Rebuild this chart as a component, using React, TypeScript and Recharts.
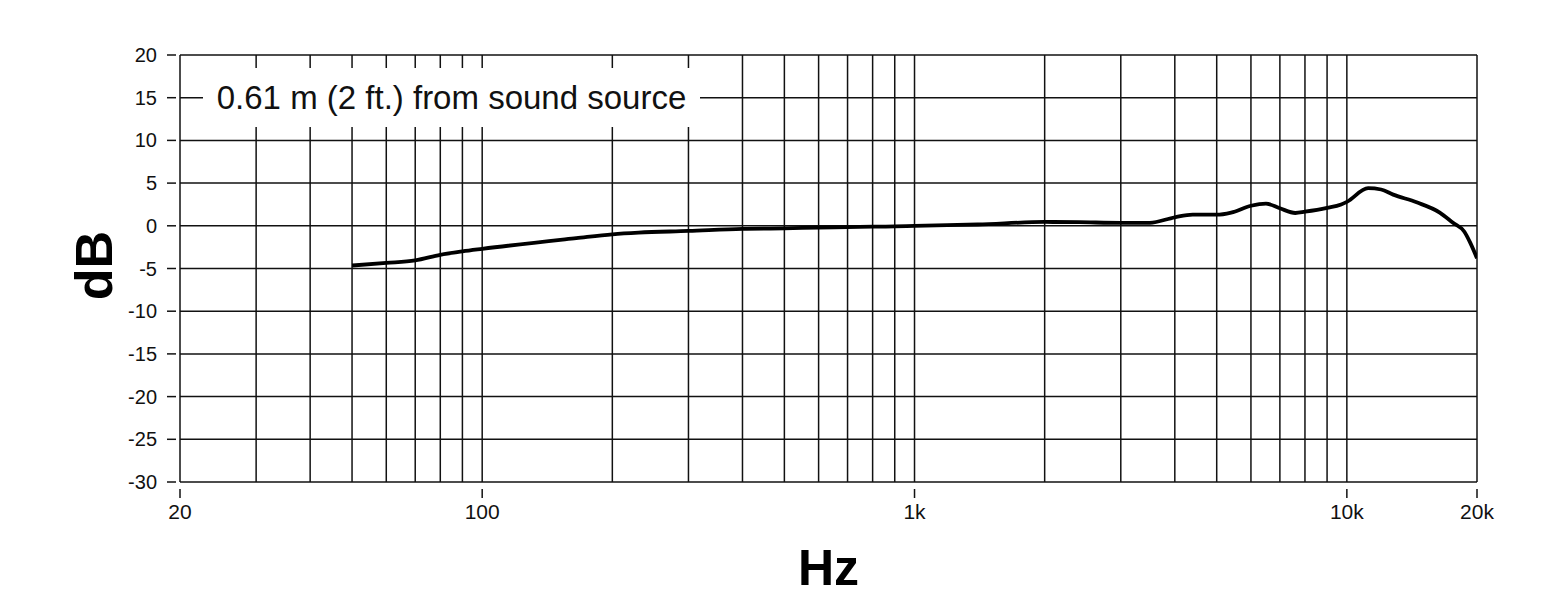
import React from 'react';
import { LineChart, Line, XAxis, YAxis, CartesianGrid, ReferenceLine } from 'recharts';

// frequency response
const freqs = [50, 60, 70, 80, 90, 100, 165, 200, 230, 300, 400, 500, 600, 700, 800, 900, 1000, 1400, 2000, 2400, 3000, 3500, 4000, 4400, 5000, 5400, 6000, 6500, 7000, 7600, 8000, 9000, 9700, 10000, 11200, 12000, 12800, 14500, 16400, 17600, 18700, 19300, 20000];
const dbValues = [-4.65, -4.35, -4.05, -3.4, -3.0, -2.7, -1.45, -1.0, -0.8, -0.6, -0.35, -0.3, -0.2, -0.15, -0.1, -0.07, 0, 0.15, 0.45, 0.42, 0.35, 0.35, 1.0, 1.3, 1.3, 1.55, 2.35, 2.6, 2.05, 1.5, 1.65, 2.1, 2.5, 2.8, 4.4, 4.25, 3.65, 2.75, 1.55, 0.35, -0.7, -2.0, -3.8];

const xTicks = [20, 100, 1000, 10000, 20000];
const xTickLabels = ['20', '100', '1k', '10k', '20k'];
const yTicks = [-30, -25, -20, -15, -10, -5, 0, 5, 10, 15, 20];
const gridFreqs = [20, 30, 40, 50, 60, 70, 80, 90, 100, 200, 300, 400, 500, 600, 700, 800, 900, 1000, 2000, 3000, 4000, 5000, 6000, 7000, 8000, 9000, 10000, 20000];
const noteText = '0.61 m (2 ft.) from sound source';

const data = freqs.map((f, i) => ({ f, db: dbValues[i] }));

const FONT = '"Liberation Sans", Arial, Helvetica, sans-serif';

const YTick = (props: any) => {
  const { x, y, payload } = props;
  return (
    <g>
      <line x1={x - 13} x2={x - 4} y1={y} y2={y} stroke="#111" strokeWidth={1.5} />
      <text x={x - 23} y={y + 7} textAnchor="end" fontSize={20} fontFamily={FONT} fill="#111">
        {payload.value}
      </text>
    </g>
  );
};

const XTick = (props: any) => {
  const { x, y, payload } = props;
  const idx = xTicks.indexOf(payload.value);
  return (
    <g>
      <line x1={x} x2={x} y1={y + 7} y2={y + 16} stroke="#111" strokeWidth={1.5} />
      <text x={x} y={y + 37} textAnchor="middle" fontSize={21} fontFamily={FONT} fill="#111">
        {idx >= 0 ? xTickLabels[idx] : payload.value}
      </text>
    </g>
  );
};

const DbLabel = (props: any) => {
  const { viewBox } = props;
  const cx = viewBox.x + 93;
  const cy = viewBox.y + viewBox.height / 2 - 3;
  return (
    <text
      x={cx}
      y={cy}
      transform={`rotate(-90 ${cx} ${cy})`}
      textAnchor="middle"
      dy={19}
      fontSize={52}
      fontWeight="bold"
      fontFamily={FONT}
      fill="#000"
    >
      dB
    </text>
  );
};

export default function App() {
  return (
    <div style={{ position: 'absolute', left: 0, top: 0, width: 1568, height: 599, background: '#fff' }}>
      <LineChart width={1568} height={599} data={data} margin={{ top: 55, right: 91, left: 0, bottom: 0 }}>
        <CartesianGrid vertical={false} stroke="#111" strokeWidth={1.5} />
        {gridFreqs.map((f) => (
          <ReferenceLine key={f} x={f} stroke="#111" strokeWidth={1.5} />
        ))}
        <XAxis
          dataKey="f"
          type="number"
          scale="log"
          domain={[20, 20000]}
          ticks={xTicks}
          allowDataOverflow
          axisLine={false}
          tickLine={false}
          tickSize={0}
          tickMargin={0}
          height={117}
          tick={<XTick />}
          interval={0}
          label={{ value: 'Hz', position: 'insideBottom', offset: 14, fontSize: 50, fontWeight: 'bold', fontFamily: FONT, fill: '#000' }}
        />
        <YAxis
          type="number"
          domain={[-30, 20]}
          ticks={yTicks}
          width={180}
          axisLine={false}
          tickLine={false}
          tickSize={0}
          tickMargin={0}
          tick={<YTick />}
          interval={0}
          label={<DbLabel />}
        />
        <Line
          type="monotone"
          dataKey="db"
          stroke="#000"
          strokeWidth={3.8}
          dot={false}
          isAnimationActive={false}
        />
      </LineChart>
      <div
        style={{
          position: 'absolute',
          left: 203,
          top: 68,
          width: 497,
          height: 59,
          background: '#fff',
          display: 'flex',
          alignItems: 'center',
          justifyContent: 'center',
          fontFamily: FONT,
          fontSize: 33,
          color: '#111',
          whiteSpace: 'nowrap',
        }}
      >
        {noteText}
      </div>
    </div>
  );
}
